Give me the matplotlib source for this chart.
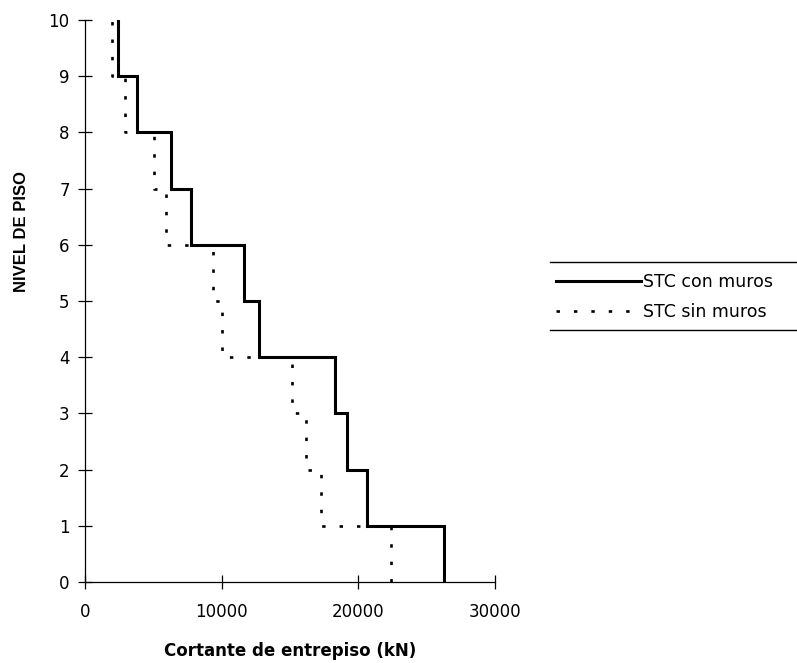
import matplotlib
matplotlib.use("Agg")
import matplotlib.pyplot as plt
from matplotlib.lines import Line2D
import numpy as np

plt.rcParams['font.family'] = ['DejaVu Sans']

# Storey shear per storey (storey 1 = between level 0 and 1, ... storey 10 = level 9 to 10)
storeys = [1, 2, 3, 4, 5, 6, 7, 8, 9, 10]
con_muros = [26260, 20650, 19140, 18310, 12750, 11630, 7750, 6290, 3800, 2410]
sin_muros = [22360, 17240, 16170, 15140, 10020, 9360, 5950, 5070, 2900, 1950]
y_ticks = [0, 1, 2, 3, 4, 5, 6, 7, 8, 9, 10]
x_ticks = [0, 10000, 20000, 30000]
labels = ["STC con muros", "STC sin muros"]


def step_path(vals, levels):
    xs, ys = [], []
    for v, lv in zip(vals, levels):
        xs += [v, v]
        ys += [lv - 1, lv]
    return np.array(xs), np.array(ys)


fig = plt.figure(figsize=(7.97, 6.63), dpi=100)
ax = fig.add_axes([85 / 797, 1 - 582 / 663, 410 / 797, 562 / 663])

x1, y1 = step_path(con_muros, storeys)
x2, y2 = step_path(sin_muros, storeys)
l1, = ax.plot(x1, y1, color='black', lw=2.2, solid_joinstyle='miter', label=labels[0])
l2, = ax.plot(x2, y2, color='black', lw=1.9, linestyle=(0, (1.3, 5.3)), label=labels[1])

ax.set_xlim(0, 30000)
ax.set_ylim(0, 10)
ax.set_xticks(x_ticks)
ax.set_yticks(y_ticks)
for s in ['top', 'right']:
    ax.spines[s].set_visible(False)
for s in ['left', 'bottom']:
    ax.spines[s].set_linewidth(0.9)
ax.tick_params(axis='both', direction='inout', length=10, width=0.9, labelsize=12)
ax.tick_params(axis='y', pad=6)
ax.tick_params(axis='x', pad=10)

ax.set_xlabel("Cortante de entrepiso (kN)", fontsize=12, fontweight='bold', labelpad=15)
fig.text(22 / 797, 1 - 232 / 663, "NIVEL DE PISO", rotation=90, fontsize=12,
         fontweight='bold', ha='center', va='center', family=['Liberation Sans'])

leg = fig.legend(handles=[l1, l2], labels=labels, loc='center left',
                 bbox_to_anchor=(556 / 797, 1 - 297 / 663), frameon=False,
                 fontsize=12.5, handlelength=4.9, handletextpad=0.1, labelspacing=0.7,
                 borderaxespad=0, borderpad=0)

for yy in [262, 330]:
    fig.add_artist(Line2D([550 / 797, 1.0], [1 - yy / 663, 1 - yy / 663],
                          transform=fig.transFigure, color='black', lw=1.0))

fig.savefig("out.png", dpi=100)
